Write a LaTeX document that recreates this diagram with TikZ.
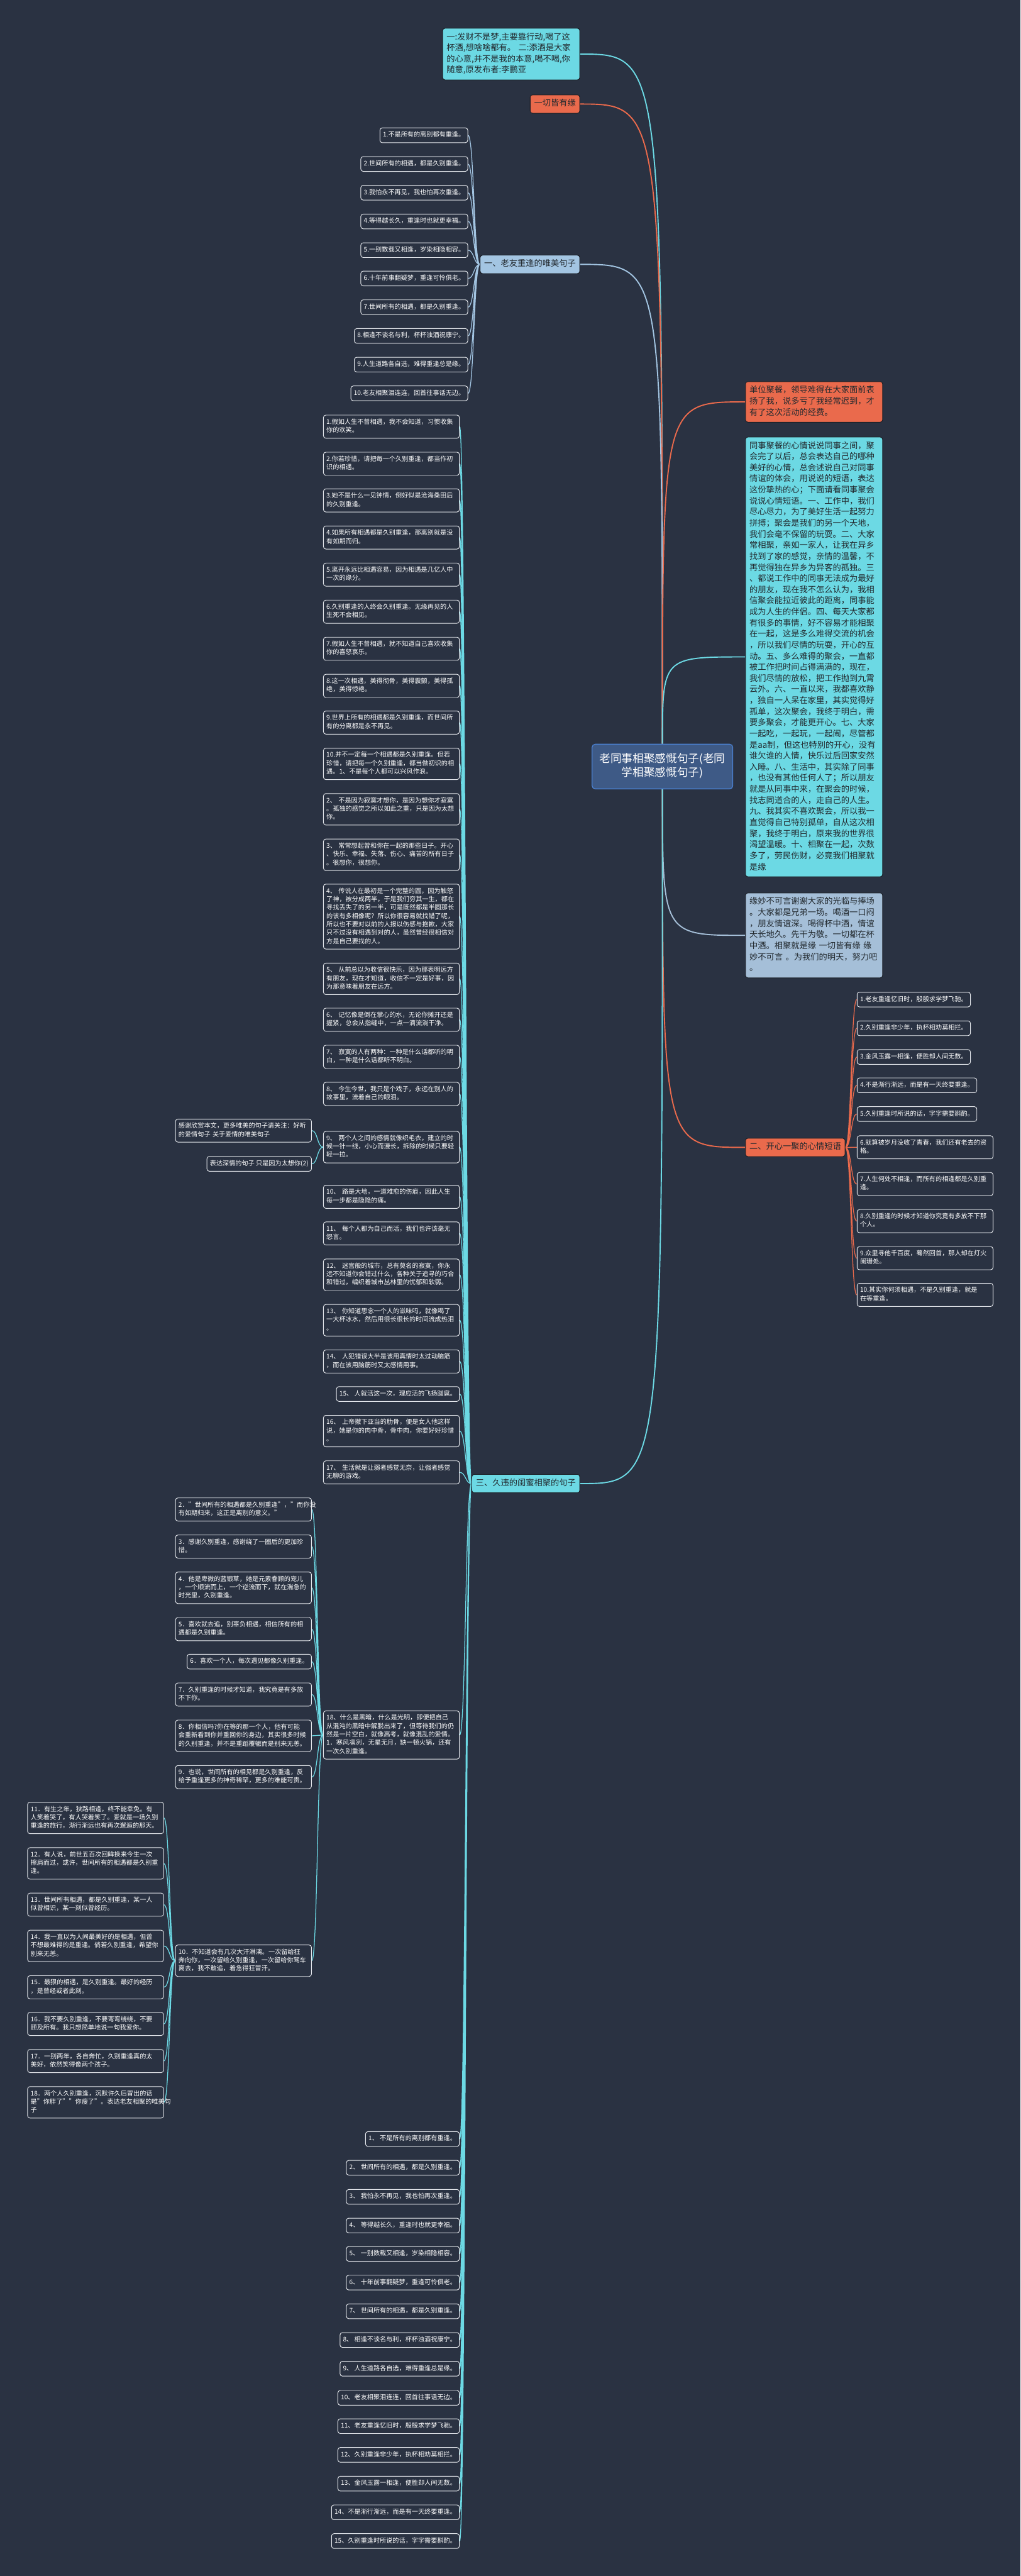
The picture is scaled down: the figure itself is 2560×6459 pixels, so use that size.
\documentclass[tikz,border=0pt]{standalone}
\usepackage{fontspec}
\setmainfont{Noto Sans CJK SC}
\usetikzlibrary{backgrounds}

\definecolor{bgc}{HTML}{2A3242}
\definecolor{cyanc}{HTML}{6CD9E4}
\definecolor{redc}{HTML}{EA6A4C}
\definecolor{bluec}{HTML}{A3C5E2}
\definecolor{greyb}{HTML}{A5BFD8}
\definecolor{hubc}{HTML}{3E5A86}
\definecolor{hubl}{HTML}{4B82D3}
\definecolor{inkc}{HTML}{22292E}
\definecolor{edgec}{HTML}{1B1F26}
\definecolor{leafl}{HTML}{E6E9EE}

\begin{document}
\begin{tikzpicture}[x=0.5pt, y=-0.5pt,
  leaf/.style={draw=leafl, line width=0.75pt, fill=bgc, text=white, rounded corners=3pt,
    inner xsep=3.75pt, inner ysep=4pt, font=\fontsize{8}{10.5}\selectfont,
    execute at begin node=\strut, execute at end node=\strut},
  leafw/.style={leaf, text width=163pt, align=left},
  card/.style={draw=edgec, line width=0.8pt, rounded corners=3pt, text=inkc,
    inner xsep=5pt, inner ysep=4.6pt, font=\fontsize{10.45}{13.9}\selectfont,
    execute at begin node=\strut, execute at end node=\strut},
  cardw/.style={card, text width=162pt, align=left},
  hub/.style={draw=hubl, line width=1pt, fill=hubc, text=white, rounded corners=4pt,
    text width=160pt, align=center, inner xsep=8.25pt, inner ysep=10pt,
    font=\fontsize{13.9}{18}\selectfont,
    execute at begin node=\strut, execute at end node=\strut},
  main/.style={line width=1.5pt},
  twig/.style={line width=1pt},
  lkL/.style={to path={.. controls +(-15,0) and +(15,0) .. (\tikztotarget)}},
  lkR/.style={to path={.. controls +(15,0) and +(-15,0) .. (\tikztotarget)}},
  lkH/.style={to path={.. controls (\tikztostart |- \tikztotarget) .. (\tikztotarget)}}]
\useasboundingbox (0,0) rectangle (2560,6459);

% centre
\node[hub, anchor=south] (root) at (1661.5,1979) {老同事相聚感慨句子(老同\\学相聚感慨句子)};

% upper left
\node[cardw, fill=cyanc, anchor=north east] (t1) at (1455,70) {一:发财不是梦,主要靠行动,喝了这\\杯酒,想啥啥都有。 二:添酒是大家\\的心意,并不是我的本意,喝不喝,你\\随意,原发布者:李鹏亚};
\node[card, fill=redc, anchor=north east] (t2) at (1455,237) {一切皆有缘};

% branch one
\node[card, fill=bluec, anchor=north east] (b1) at (1455,639) {一、老友重逢的唯美句子};
\node[leaf, anchor=north east] (a1) at (1174,320) {1.不是所有的离别都有重逢。};
\node[leaf, anchor=north east] (a2) at (1174,392) {2.世间所有的相遇，都是久别重逢。};
\node[leaf, anchor=north east] (a3) at (1174,464) {3.我怕永不再见，我也怕再次重逢。};
\node[leaf, anchor=north east] (a4) at (1174,536) {4.等得越长久，重逢时也就更幸福。};
\node[leaf, anchor=north east] (a5) at (1174,608) {5.一别数载又相逢，岁染相隐相容。};
\node[leaf, anchor=north east] (a6) at (1174,679) {6.十年前事翻疑梦，重逢可怜俱老。};
\node[leaf, anchor=north east] (a7) at (1174,751) {7.世间所有的相遇，都是久别重逢。};
\node[leaf, anchor=north east] (a8) at (1174,823) {8.相逢不谈名与利，杯杯浊酒祝康宁。};
\node[leaf, anchor=north east] (a9) at (1174,895) {9.人生道路各自选，难得重逢总是缘。};
\node[leaf, anchor=north east] (a10) at (1174,967) {10.老友相聚泪连连，回首往事话无边。};

% right column
\node[cardw, fill=redc, anchor=north west] (r1) at (1869,956) {单位聚餐，领导难得在大家面前表\\扬了我，说多亏了我经常迟到，才\\有了这次活动的经费。};
\node[cardw, fill=cyanc, anchor=north west] (r2) at (1869,1095) {同事聚餐的心情说说同事之间，聚\\会完了以后，总会表达自己的哪种\\美好的心情，总会述说自己对同事\\情谊的体会，用说说的短语，表达\\这份挚热的心；下面请看同事聚会\\说说心情短语。一、工作中，我们\\尽心尽力，为了美好生活一起努力\\拼搏；聚会是我们的另一个天地，\\我们会毫不保留的玩耍。二、大家\\常相聚，亲如一家人，让我在异乡\\找到了家的感觉，亲情的温馨，不\\再觉得独在异乡为异客的孤独。三\\、都说工作中的同事无法成为最好\\的朋友，现在我不怎么认为，我相\\信聚会能拉近彼此的距离，同事能\\成为人生的伴侣。四、每天大家都\\有很多的事情，好不容易才能相聚\\在一起，这是多么难得交流的机会\\，所以我们尽情的玩耍，开心的互\\动。五、多么难得的聚会，一直都\\被工作把时间占得满满的，现在，\\我们尽情的放松，把工作抛到九霄\\云外。六、一直以来，我都喜欢静\\，独自一人呆在家里，其实觉得好\\孤单，这次聚会，我终于明白，需\\要多聚会，才能更开心。七、大家\\一起吃，一起玩，一起闹，尽管都\\是aa制，但这也特别的开心，没有\\谁欠谁的人情，快乐过后回家安然\\入睡。八、生活中，其实除了同事\\，也没有其他任何人了；所以朋友\\就是从同事中来，在聚会的时候，\\找志同道合的人，走自己的人生。\\九、我其实不喜欢聚会，所以我一\\直觉得自己特别孤单，自从这次相\\聚，我终于明白，原来我的世界很\\渴望温暖。十、相聚在一起，次数\\多了，劳民伤财，必竟我们相聚就\\是缘};
\node[cardw, fill=greyb, anchor=north west] (r3) at (1869,2238) {缘妙不可言谢谢大家的光临与捧场\\。大家都是兄弟一场。喝酒一口闷\\，朋友情谊深。喝得杯中酒，情谊\\天长地久。先干为敬。一切都在杯\\中酒。相聚就是缘 一切皆有缘 缘\\妙不可言 。为我们的明天，努力吧\\。};

% branch two
\node[card, fill=redc, anchor=north west] (b2) at (1869,2853) {二、开心一聚的心情短语};
\node[leaf, anchor=north west] (h1) at (2149,2487) {1.老友重逢忆旧时，殷殷求学梦飞驰。};
\node[leaf, anchor=north west] (h2) at (2149,2559) {2.久别重逢非少年，执杯相劝莫相拦。};
\node[leaf, anchor=north west] (h3) at (2149,2631) {3.金风玉露一相逢，便胜却人间无数。};
\node[leaf, anchor=north west] (h4) at (2149,2702) {4.不是渐行渐远，而是有一天终要重逢。};
\node[leaf, anchor=north west] (h5) at (2149,2774) {5.久别重逢时所说的话，字字需要斟酌。};
\node[leafw, anchor=north west] (h6) at (2149,2847) {6.就算被岁月没收了青春，我们还有老去的资\\格。};
\node[leafw, anchor=north west] (h7) at (2149,2939) {7.人生何处不相逢，而所有的相逢都是久别重\\逢。};
\node[leafw, anchor=north west] (h8) at (2149,3032) {8.久别重逢的时候才知道你究竟有多放不下那\\个人。};
\node[leafw, anchor=north west] (h9) at (2149,3125) {9.众里寻他千百度，蓦然回首，那人却在灯火\\阑珊处。};
\node[leafw, anchor=north west] (h10) at (2149,3217) {10.其实你何须相遇，不是久别重逢，就是\\在等重逢。};

% branch three
\node[card, fill=cyanc, anchor=north east] (b3) at (1455,3696) {三、久违的闺蜜相聚的句子};
\node[leafw, anchor=north east] (c1) at (1153,1040) {1.假如人生不曾相遇，我不会知道，习惯收集\\你的欢笑。};
\node[leafw, anchor=north east] (c2) at (1153,1133) {2.你若珍惜，请把每一个久别重逢，都当作初\\识的相遇。};
\node[leafw, anchor=north east] (c3) at (1153,1225) {3.她不是什么一见钟情，倒好似是沧海桑田后\\的久别重逢。};
\node[leafw, anchor=north east] (c4) at (1153,1318) {4.如果所有相遇都是久别重逢，那离别就是没\\有如期而归。};
\node[leafw, anchor=north east] (c5) at (1153,1411) {5.离开永远比相遇容易，因为相遇是几亿人中\\一次的缘分。};
\node[leafw, anchor=north east] (c6) at (1153,1504) {6.久别重逢的人终会久别重逢。无缘再见的人\\生死不会相见。};
\node[leafw, anchor=north east] (c7) at (1153,1597) {7.假如人生不曾相遇，就不知道自己喜欢收集\\你的喜怒哀乐。};
\node[leafw, anchor=north east] (c8) at (1153,1690) {8.这一次相遇，美得彻骨，美得震颤，美得孤\\绝，美得惊艳。};
\node[leafw, anchor=north east] (c9) at (1153,1782) {9.世界上所有的相遇都是久别重逢，而世间所\\有的分离都是永不再见。};
\node[leafw, anchor=north east] (c10) at (1153,1875) {10.并不一定每一个相遇都是久别重逢。但若\\珍惜，请把每一个久别重逢，都当做初识的相\\遇。1、不是每个人都可以兴风作浪。};
\node[leafw, anchor=north east] (c11) at (1153,1989) {2、 不是因为寂寞才想你，是因为想你才寂寞\\。孤独的感觉之所以如此之重，只是因为太想\\你。};
\node[leafw, anchor=north east] (c12) at (1153,2103) {3、 常常想起曾和你在一起的那些日子。开心\\、快乐、幸福、失落、伤心、痛苦的所有日子\\。很想你，很想你。};
\node[leafw, anchor=north east] (c13) at (1153,2216) {4、 传说人在最初是一个完整的圆，因为触怒\\了神，被分成两半，于是我们穷其一生，都在\\寻找丢失了的另一半，可是既然都是半圆那长\\的该有多相像呢？所以你很容易就找错了呢，\\所以也不要对以前的人报以伤感与抱歉，大家\\只不过没有相遇到对的人，虽然曾经很相信对\\方是自己要找的人。};
\node[leafw, anchor=north east] (c14) at (1153,2414) {5、 从前总以为收信很快乐，因为那表明远方\\有朋友，现在才知道，收信不一定是好事，因\\为那意味着朋友在远方。};
\node[leafw, anchor=north east] (c15) at (1153,2527) {6、 记忆像是倒在掌心的水，无论你摊开还是\\握紧，总会从指缝中，一点一滴流淌干净。};
\node[leafw, anchor=north east] (c16) at (1153,2620) {7、 寂寞的人有两种：一种是什么话都听的明\\白，一种是什么话都听不明白。};
\node[leafw, anchor=north east] (c17) at (1153,2713) {8、 今生今世，我只是个戏子，永远在别人的\\故事里，流着自己的眼泪。};
\node[leafw, anchor=north east] (c18) at (1153,2836) {9、 两个人之间的感情就像织毛衣，建立的时\\候一针一线，小心而漫长，拆除的时候只要轻\\轻一拉。};
\node[leafw, anchor=north east] (d1) at (782,2805) {感谢欣赏本文，更多唯美的句子请关注：好听\\的爱情句子 关于爱情的唯美句子};
\node[leaf, anchor=north east] (d2) at (782,2899) {表达深情的句子 只是因为太想你(2)};
\node[leafw, anchor=north east] (c19) at (1153,2971) {10、 路是大地，一道难愈的伤痕，因此人生\\每一步都是隐隐的痛。};
\node[leafw, anchor=north east] (c20) at (1153,3063) {11、 每个人都为自己而活，我们也许该毫无\\怨言。};
\node[leafw, anchor=north east] (c21) at (1153,3156) {12、 迷宫般的城市，总有莫名的寂寞，你永\\远不知道你会错过什么，各种关于追寻的巧合\\和错过，编织着城市丛林里的忧郁和软弱。};
\node[leafw, anchor=north east] (c22) at (1153,3270) {13、 你知道思念一个人的滋味吗，就像喝了\\一大杯冰水，然后用很长很长的时间流成热泪\\。};
\node[leafw, anchor=north east] (c23) at (1153,3384) {14、 人犯错误大半是该用真情时太过动脑筋\\，而在该用脑筋时又太感情用事。};
\node[leaf, anchor=north east] (c24) at (1153,3476) {15、 人就活这一次，理应活的飞扬跋扈。};
\node[leafw, anchor=north east] (c25) at (1153,3548) {16、 上帝撤下亚当的肋骨，便是女人他这样\\说，她是你的肉中骨，骨中肉，你要好好珍惜\\。};
\node[leafw, anchor=north east] (c26) at (1153,3662) {17、 生活就是让弱者感觉无奈，让强者感觉\\无聊的游戏。};
\node[leafw, anchor=north east] (c27) at (1153,4289) {18、什么是黑暗，什么是光明，即便把自己\\从混沌的黑暗中解脱出来了，但等待我们的仍\\然是一片空白，就像高考，就像混乱的爱情。\\1．寒风凛冽，无星无月，缺一顿火锅，还有\\一次久别重逢。};
\node[leafw, anchor=north east] (e1) at (782,3755) {2．"世间所有的相遇都是久别重逢"，"而你没\\有如期归来，这正是离别的意义。"};
\node[leafw, anchor=north east] (e2) at (782,3848) {3．感谢久别重逢，感谢绕了一圈后的更加珍\\惜。};
\node[leafw, anchor=north east] (e3) at (782,3941) {4．他是卑微的蓝银草，她是元素眷顾的宠儿\\，一个顺流而上，一个逆流而下，就在湍急的\\时光里，久别重逢。};
\node[leafw, anchor=north east] (e4) at (782,4055) {5．喜欢就去追，别辜负相遇，相信所有的相\\遇都是久别重逢。};
\node[leaf, anchor=north east] (e5) at (782,4147) {6．喜欢一个人，每次遇见都像久别重逢。};
\node[leafw, anchor=north east] (e6) at (782,4219) {7．久别重逢的时候才知道，我究竟是有多放\\不下你。};
\node[leafw, anchor=north east] (e7) at (782,4312) {8．你相信吗?你在等的那一个人，他有可能\\会重新看到你并重回你的身边，其实很多时候\\的久别重逢，并不是重蹈覆辙而是别来无恙。};
\node[leafw, anchor=north east] (e8) at (782,4426) {9．也说，世间所有的相见都是久别重逢，反\\给予重逢更多的神奇稀罕，更多的难能可贵。};
\node[leafw, anchor=north east] (e9) at (782,4876) {10．不知道会有几次大汗淋漓。一次留给狂\\奔向你，一次留给久别重逢，一次留给你驾车\\离去，我不敢追，着急得狂冒汗。};
\node[leafw, anchor=north east] (f1) at (411,4518) {11．有生之年，狭路相逢，终不能幸免。有\\人笑着哭了，有人哭着笑了。爱就是一场久别\\重逢的旅行，渐行渐远也有再次邂逅的那天。};
\node[leafw, anchor=north east] (f2) at (411,4632) {12．有人说，前世五百次回眸换来今生一次\\擦肩而过，或许，世间所有的相遇都是久别重\\逢。};
\node[leafw, anchor=north east] (f3) at (411,4746) {13．世间所有相遇，都是久别重逢，某一人\\似曾相识，某一刻似曾经历。};
\node[leafw, anchor=north east] (f4) at (411,4839) {14．我一直以为人间最美好的是相遇，但曾\\不想最难得的是重逢。倘若久别重逢，希望你\\别来无恙。};
\node[leafw, anchor=north east] (f5) at (411,4953) {15．最狠的相遇，是久别重逢。最好的经历\\，是曾经或者此刻。};
\node[leafw, anchor=north east] (f6) at (411,5045) {16．我不要久别重逢，不要弯弯绕绕，不要\\顾及所有。我只想简单地说一句我爱你。};
\node[leafw, anchor=north east] (f7) at (411,5138) {17．一别两年，各自奔忙，久别重逢真的太\\美好，依然笑得像两个孩子。};
\node[leafw, anchor=north east] (f8) at (411,5231) {18．两个人久别重逢，沉默许久后冒出的话\\是"你胖了""你瘦了"。表达老友相聚的唯美句\\子};
\node[leaf, anchor=north east] (g1) at (1153,5344) {1、 不是所有的离别都有重逢。};
\node[leaf, anchor=north east] (g2) at (1153,5416) {2、 世间所有的相遇，都是久别重逢。};
\node[leaf, anchor=north east] (g3) at (1153,5489) {3、 我怕永不再见，我也怕再次重逢。};
\node[leaf, anchor=north east] (g4) at (1153,5561) {4、 等得越长久，重逢时也就更幸福。};
\node[leaf, anchor=north east] (g5) at (1153,5632) {5、 一别数载又相逢，岁染相隐相容。};
\node[leaf, anchor=north east] (g6) at (1153,5704) {6、 十年前事翻疑梦，重逢可怜俱老。};
\node[leaf, anchor=north east] (g7) at (1153,5776) {7、 世间所有的相遇，都是久别重逢。};
\node[leaf, anchor=north east] (g8) at (1153,5848) {8、 相逢不谈名与利，杯杯浊酒祝康宁。};
\node[leaf, anchor=north east] (g9) at (1153,5920) {9、 人生道路各自选，难得重逢总是缘。};
\node[leaf, anchor=north east] (g10) at (1153,5993) {10、老友相聚泪连连，回首往事话无边。};
\node[leaf, anchor=north east] (g11) at (1153,6064) {11、老友重逢忆旧时，殷殷求学梦飞驰。};
\node[leaf, anchor=north east] (g12) at (1153,6136) {12、久别重逢非少年，执杯相劝莫相拦。};
\node[leaf, anchor=north east] (g13) at (1153,6208) {13、金风玉露一相逢，便胜却人间无数。};
\node[leaf, anchor=north east] (g14) at (1153,6280) {14、不是渐行渐远，而是有一天终要重逢。};
\node[leaf, anchor=north east] (g15) at (1153,6352) {15、久别重逢时所说的话，字字需要斟酌。};

\begin{scope}[on background layer]
\fill[bgc] (0,0) rectangle (2560,6459);
% from the centre
\draw[main, cyanc, lkH] (root.north) to (t1.east);
\draw[main, redc, lkH] (root.north) to (t2.east);
\draw[main, bluec, lkH] (root.north) to (b1.east);
\draw[main, redc, lkH] (root.north) to (r1.west);
\draw[main, cyanc, lkH] (root.north) to (r2.west);
\draw[main, greyb, lkH] (root.south) to (r3.west);
\draw[main, redc, lkH] (root.south) to (b2.west);
\draw[main, cyanc, lkH] (root.south) to (b3.east);
% branch one
\draw[twig, bluec, lkL] (b1.west) to (a1.east) (b1.west) to (a2.east) (b1.west) to (a3.east)
  (b1.west) to (a4.east) (b1.west) to (a5.east) (b1.west) to (a6.east) (b1.west) to (a7.east)
  (b1.west) to (a8.east) (b1.west) to (a9.east) (b1.west) to (a10.east);
% branch two
\draw[twig, redc, lkR] (b2.east) to (h1.west) (b2.east) to (h2.west) (b2.east) to (h3.west)
  (b2.east) to (h4.west) (b2.east) to (h5.west) (b2.east) to (h6.west) (b2.east) to (h7.west)
  (b2.east) to (h8.west) (b2.east) to (h9.west) (b2.east) to (h10.west);
% branch three
\draw[twig, cyanc, lkL] (b3.west) to (c1.east) (b3.west) to (c2.east) (b3.west) to (c3.east)
  (b3.west) to (c4.east) (b3.west) to (c5.east) (b3.west) to (c6.east) (b3.west) to (c7.east)
  (b3.west) to (c8.east) (b3.west) to (c9.east) (b3.west) to (c10.east) (b3.west) to (c11.east)
  (b3.west) to (c12.east) (b3.west) to (c13.east) (b3.west) to (c14.east) (b3.west) to (c15.east)
  (b3.west) to (c16.east) (b3.west) to (c17.east) (b3.west) to (c18.east) (b3.west) to (c19.east)
  (b3.west) to (c20.east) (b3.west) to (c21.east) (b3.west) to (c22.east) (b3.west) to (c23.east)
  (b3.west) to (c24.east) (b3.west) to (c25.east) (b3.west) to (c26.east) (b3.west) to (c27.east);
\draw[twig, cyanc, lkL] (b3.west) to (g1.east) (b3.west) to (g2.east) (b3.west) to (g3.east)
  (b3.west) to (g4.east) (b3.west) to (g5.east) (b3.west) to (g6.east) (b3.west) to (g7.east)
  (b3.west) to (g8.east) (b3.west) to (g9.east) (b3.west) to (g10.east) (b3.west) to (g11.east)
  (b3.west) to (g12.east) (b3.west) to (g13.east) (b3.west) to (g14.east) (b3.west) to (g15.east);
\draw[twig, cyanc, lkL] (c18.west) to (d1.east) (c18.west) to (d2.east);
\draw[twig, cyanc, lkL] (c27.west) to (e1.east) (c27.west) to (e2.east) (c27.west) to (e3.east)
  (c27.west) to (e4.east) (c27.west) to (e5.east) (c27.west) to (e6.east) (c27.west) to (e7.east)
  (c27.west) to (e8.east) (c27.west) to (e9.east);
\draw[twig, cyanc, lkL] (e9.west) to (f1.east) (e9.west) to (f2.east) (e9.west) to (f3.east)
  (e9.west) to (f4.east) (e9.west) to (f5.east) (e9.west) to (f6.east) (e9.west) to (f7.east)
  (e9.west) to (f8.east);
\end{scope}
\end{tikzpicture}
\end{document}
